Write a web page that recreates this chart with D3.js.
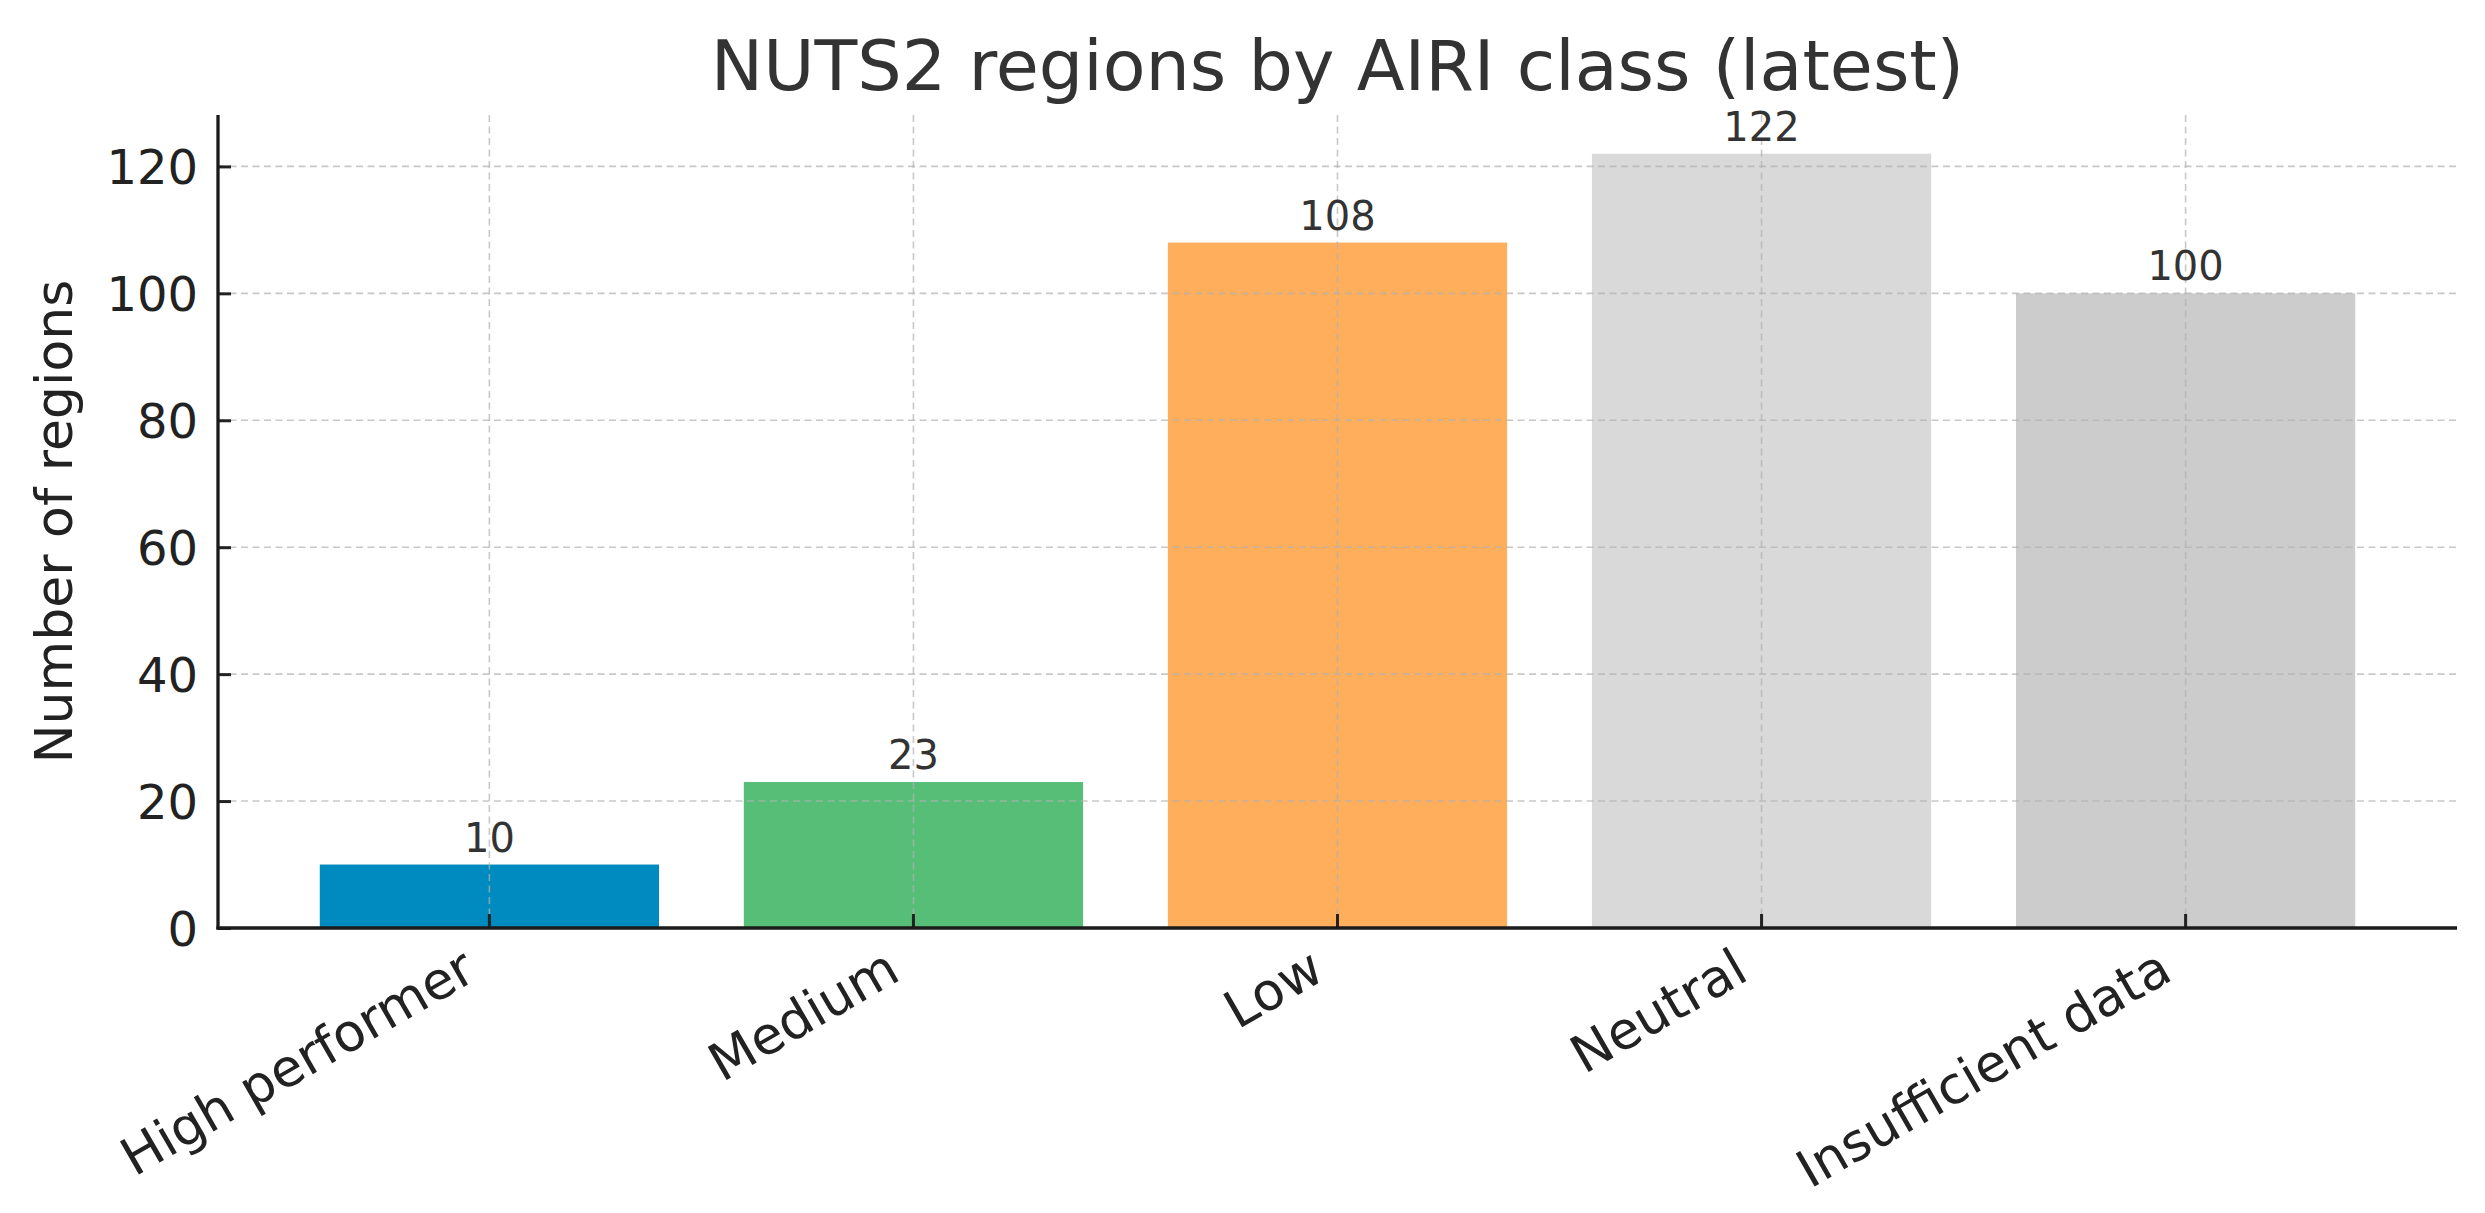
<!DOCTYPE html>
<html>
<head>
<meta charset="utf-8">
<script src="https://cdn.jsdelivr.net/npm/d3@7"></script>
<style>
  html, body { margin: 0; padding: 0; background: #ffffff; }
  svg { display: block; }
  text { font-family: "DejaVu Sans", sans-serif; }
</style>
</head>
<body>
<div id="chart"></div>
<script>
const categories = ["High performer", "Medium", "Low", "Neutral", "Insufficient data"];
const counts = [10, 23, 108, 122, 100];
const barColors = ["#008bc0", "#57be78", "#ffae5b", "#d9d9d9", "#cccccc"];
const yTicks = [0, 20, 40, 60, 80, 100, 120];
const titleText = "NUTS2 regions by AIRI class (latest)";
const yLabelText = "Number of regions";

const W = 2485, H = 1213;
const plotLeft = 218, plotRight = 2457, plotTop = 115, plotBottom = 928;

const svg = d3.select("#chart").append("svg")
  .attr("width", W).attr("height", H);

svg.append("rect").attr("width", W).attr("height", H).attr("fill", "#fff");

const x = d3.scaleBand().domain(categories).range([plotLeft, plotRight])
  .paddingInner(0.2).paddingOuter(0.24);
const yMax = d3.max(counts) * 1.05;
const y = d3.scaleLinear().domain([0, yMax]).range([plotBottom, plotTop]);

// bars
svg.append("g").selectAll("rect").data(categories).join("rect")
  .attr("x", d => x(d))
  .attr("width", x.bandwidth())
  .attr("y", (d, i) => y(counts[i]))
  .attr("height", (d, i) => plotBottom - y(counts[i]))
  .attr("fill", (d, i) => barColors[i]);

// grid (above bars)
const grid = svg.append("g").attr("stroke", "#b0b0b0").attr("stroke-opacity", 0.7)
  .attr("stroke-width", 1.6).attr("stroke-dasharray", "7,4.5");
grid.selectAll("line.h").data(yTicks).join("line").attr("class", "h")
  .attr("x1", plotLeft).attr("x2", plotRight)
  .attr("y1", d => y(d)).attr("y2", d => y(d));
grid.selectAll("line.v").data(categories).join("line").attr("class", "v")
  .attr("x1", d => x(d) + x.bandwidth() / 2).attr("x2", d => x(d) + x.bandwidth() / 2)
  .attr("y1", plotTop).attr("y2", plotBottom);

// value labels
svg.append("g").selectAll("text").data(categories).join("text")
  .attr("x", d => x(d) + x.bandwidth() / 2)
  .attr("y", (d, i) => y(counts[i]) - 13)
  .attr("text-anchor", "middle")
  .attr("font-size", 40)
  .attr("fill", "#333")
  .text((d, i) => counts[i]);

// y axis
const yAxis = svg.append("g").attr("transform", `translate(${plotLeft},0)`)
  .call(d3.axisLeft(y).tickValues(yTicks).tickSize(-13).tickPadding(20).tickSizeOuter(0));
yAxis.select(".domain").remove();
yAxis.selectAll(".tick line").attr("stroke", "#222").attr("stroke-width", 3);
yAxis.selectAll(".tick text").attr("font-size", 48).attr("fill", "#222")
  .attr("font-family", "DejaVu Sans, sans-serif").attr("dy", "0.36em");

// x axis
const xAxis = svg.append("g").attr("transform", `translate(0,${plotBottom})`)
  .call(d3.axisBottom(x).tickSize(-14).tickSizeOuter(0));
xAxis.select(".domain").remove();
xAxis.selectAll(".tick line").attr("stroke", "#222").attr("stroke-width", 3);
xAxis.selectAll(".tick text")
  .attr("font-size", 52).attr("fill", "#222")
  .attr("font-family", "DejaVu Sans, sans-serif")
  .attr("text-anchor", "end")
  .attr("dominant-baseline", "text-before-edge")
  .attr("x", 0).attr("y", 0).attr("dy", null)
  .attr("transform", "translate(-35,9) rotate(-30)");

// spines
svg.append("line").attr("x1", plotLeft).attr("x2", plotLeft).attr("y1", plotTop).attr("y2", plotBottom + 1.6)
  .attr("stroke", "#1a1a1a").attr("stroke-width", 3.3);
svg.append("line").attr("x1", plotLeft - 1.6).attr("x2", plotRight).attr("y1", plotBottom).attr("y2", plotBottom)
  .attr("stroke", "#1a1a1a").attr("stroke-width", 3.3);

// title
svg.append("text").attr("x", (plotLeft + plotRight) / 2).attr("y", 90)
  .attr("text-anchor", "middle").attr("font-size", 70).attr("fill", "#333")
  .text(titleText);

// y label
svg.append("text")
  .attr("transform", `translate(72,${(plotTop + plotBottom) / 2}) rotate(-90)`)
  .attr("text-anchor", "middle").attr("font-size", 52).attr("fill", "#222")
  .text(yLabelText);
</script>
</body>
</html>
